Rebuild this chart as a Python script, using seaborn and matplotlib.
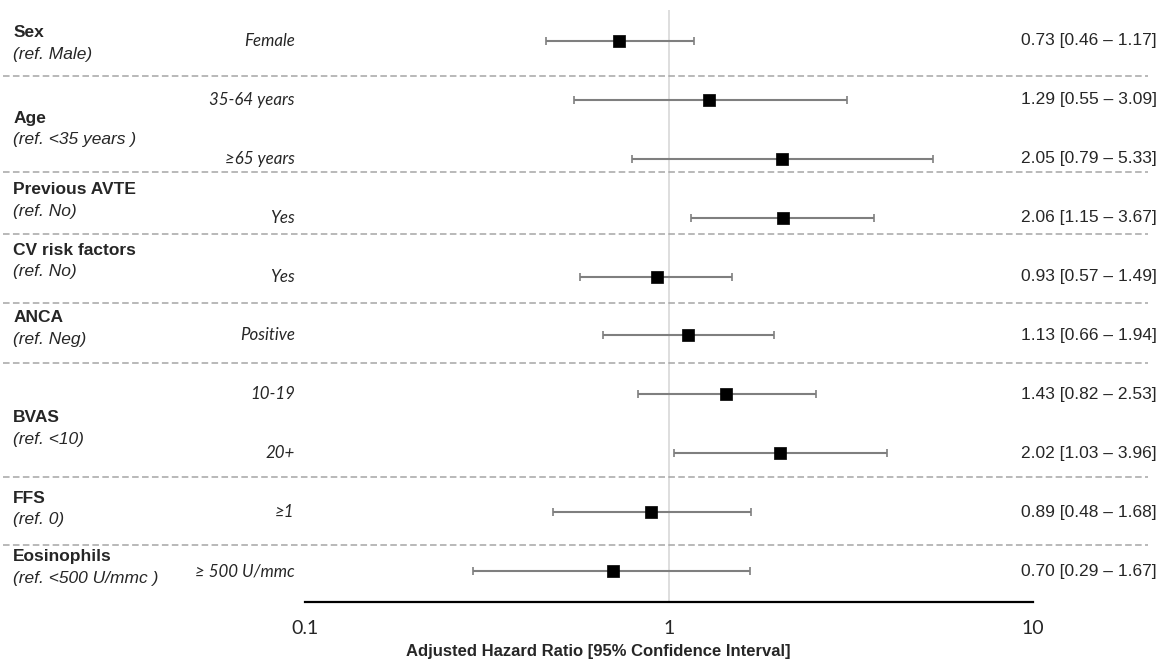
import numpy as np
import pandas as pd
import matplotlib
matplotlib.use("Agg")
import matplotlib.pyplot as plt
import seaborn as sns

# group titles and reference categories
groups = ["Sex", "Age", "Previous AVTE", "CV risk factors", "ANCA", "BVAS", "FFS", "Eosinophils"]
group_refs = ["(ref. Male)", "(ref. <35 years )", "(ref. No)", "(ref. No)", "(ref. Neg)",
              "(ref. <10)", "(ref. 0)", "(ref. <500 U/mmc )"]

# one entry per estimate row
levels = ["Female", "35-64 years", "≥65 years", "Yes", "Yes", "Positive", "10-19", "20+", "≥1", "≥ 500 U/mmc"]
hr = [0.73, 1.29, 2.05, 2.06, 0.93, 1.13, 1.43, 2.02, 0.89, 0.70]
ci_low = [0.46, 0.55, 0.79, 1.15, 0.57, 0.66, 0.82, 1.03, 0.48, 0.29]
ci_high = [1.17, 3.09, 5.33, 3.67, 1.49, 1.94, 2.53, 3.96, 1.68, 1.67]

x_ticks = [0.1, 1, 10]
x_tick_labels = ["0.1", "1", "10"]

# layout (row units): where group titles and dashed separators sit
title_pos = [-0.14, 1.31, 2.53, 3.55, 4.70, 6.40, 7.76, 8.76]
sep_pos = [0.594, 2.224, 3.277, 4.448, 5.467, 7.402, 8.557]

df = pd.DataFrame({"level": levels, "hr": hr, "lo": ci_low, "hi": ci_high})
df["row"] = np.arange(len(df))

sns.set_style("white")
plt.rcParams["font.family"] = ["Liberation Sans", "DejaVu Sans"]

fig = plt.figure(figsize=(11.61, 6.61), dpi=100)
ax = fig.add_axes([0.2627, 0.0893, 0.6270, 0.8956])

ax.axvline(1, color="#d4d4d4", lw=1.1, zorder=0)

ax.errorbar(df["hr"], df["row"],
            xerr=[df["hr"] - df["lo"], df["hi"] - df["hr"]],
            fmt="none", ecolor="#7f7f7f", elinewidth=1.5, capsize=3, capthick=1.2, zorder=2)
sns.scatterplot(data=df, x="hr", y="row", marker="s", s=66, color="black",
                edgecolor="black", linewidth=0.5, ax=ax, zorder=3, legend=False)

ax.set_xscale("log")
ax.set_xlim(0.1, 10)
ax.set_ylim(9.525, -0.526)
ax.set_xticks(x_ticks)
ax.set_xticklabels(x_tick_labels, fontsize=14, family=["Lato", "DejaVu Sans"])
ax.minorticks_off()
ax.tick_params(axis="x", length=0, pad=13)
ax.set_yticks([])
ax.set_xlabel("")
ax.set_ylabel("")
for side in ["top", "right", "left"]:
    ax.spines[side].set_visible(False)
ax.spines["bottom"].set_color("black")
ax.spines["bottom"].set_linewidth(1.6)

trans = ax.get_yaxis_transform()

# dashed separators across the whole width
for y in sep_pos:
    ax.plot([-0.415, 1.158], [y, y], transform=trans, color="#a6a6a6", lw=1.1,
            linestyle=(0, (4.3, 2.2)), clip_on=False, zorder=1)

# group titles and reference categories
for g, ref, y in zip(groups, group_refs, title_pos):
    ax.text(-0.401, y, g, transform=trans, ha="left", va="center",
            fontsize=12.5, fontweight="bold", clip_on=False)
    ax.text(-0.401, y + 0.37, ref, transform=trans, ha="left", va="center",
            fontsize=12.5, fontstyle="italic", clip_on=False)

# level labels and HR texts
for _, r in df.iterrows():
    ax.text(-0.014, r["row"], r["level"], transform=trans, ha="right", va="center",
            fontsize=12.2, fontstyle="italic", family=["Lato", "DejaVu Sans"], clip_on=False)
    ax.text(1.170, r["row"], f"{r['hr']:.2f} [{r['lo']:.2f} – {r['hi']:.2f}]",
            transform=trans, ha="right", va="center", fontsize=12.5, clip_on=False)

fig.text(0.515, 0.0151, "Adjusted Hazard Ratio [95% Confidence Interval]",
         ha="center", va="center", fontsize=12, fontweight="bold")

fig.savefig("out.png", dpi=100)
